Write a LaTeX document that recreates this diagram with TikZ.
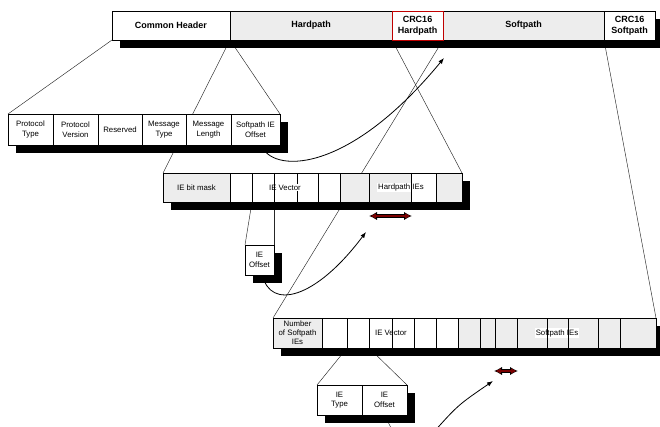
\documentclass[tikz,border=0pt]{standalone}
\usepackage{fontspec}
\setmainfont{Liberation Sans}
\usetikzlibrary{arrows.meta,calc}
\definecolor{cellgray}{HTML}{EDEDED}
\definecolor{crcred}{HTML}{C00000}
\definecolor{arrred}{HTML}{7A0000}
\pgfdeclarelayer{bg}
\pgfsetlayers{bg,main}
\tikzset{
  cell/.style={draw=black, line width=0.7pt, inner sep=0pt, outer sep=0pt, anchor=north west, align=center, font=\fontsize{7.8}{9.5}\selectfont},
  topcell/.style={cell, font=\bfseries\fontsize{9}{11}\selectfont},
  shadowbox/.style={fill=black},
  conn/.style={line width=0.45pt, black!85},
  curvearrow/.style={line width=0.8pt, -{Latex[length=6pt,width=4.5pt]}},
  spanlabel/.style={fill=white, inner sep=1pt, font=\fontsize{7.8}{9.5}\selectfont},
  divider/.style={line width=0.7pt, black},
  dblouter/.style={line width=3.6pt, black, {Latex[length=8pt,width=8.5pt]}-{Latex[length=8pt,width=8.5pt]}},
  dblinner/.style={line width=2.1pt, arrred, {Latex[length=5.4pt,width=5.4pt]}-{Latex[length=5.4pt,width=5.4pt]}, shorten <=1.4pt, shorten >=1.4pt}
}
\newcommand\mkcell[8]{\node[#8, fill=#6, minimum width={(#3-#2)*1pt}, minimum height={(#5-#4)*1pt}] (#1) at (#2,#4) {#7};}
\begin{document}
\begin{tikzpicture}[x=1pt,y=-1pt]
\useasboundingbox (0,0) rectangle (660,427);

% ---------- top bar ----------
\fill[shadowbox] (120,19) rectangle (663,48);
\mkcell{ch}{112}{230}{11}{40}{white}{Common Header}{topcell}
\mkcell{hp}{230}{392}{11}{40}{cellgray}{Hardpath}{topcell}
\mkcell{sp}{443}{604}{11}{40}{cellgray}{Softpath}{topcell}
\mkcell{crcs}{604}{655}{11}{40}{white}{CRC16\\Softpath}{topcell}
\mkcell{crch}{392}{443}{11}{40}{white}{CRC16\\Hardpath}{topcell,draw=crcred}

% ---------- protocol row ----------
\fill[shadowbox] (16,122) rectangle (288,153);
\mkcell{pr1}{8}{53}{114}{145}{white}{Protocol\\Type}{cell}
\mkcell{pr2}{53}{98}{114}{145}{white}{Protocol\\Version}{cell}
\mkcell{pr3}{98}{142}{114}{145}{white}{Reserved}{cell}
\mkcell{pr4}{142}{186}{114}{145}{white}{Message\\Type}{cell}
\mkcell{pr5}{186}{231}{114}{145}{white}{Message\\Length}{cell}
\mkcell{pr6}{231}{280}{114}{145}{white}{Softpath IE\\Offset}{cell}

% ---------- hardpath IE row ----------
\fill[shadowbox] (171,181) rectangle (470,210);
\mkcell{ie1}{163}{230}{173}{202}{cellgray}{IE bit mask}{cell}
\mkcell{ie2}{230}{252}{173}{202}{white}{}{cell}
\mkcell{ie3}{252}{274}{173}{202}{white}{}{cell}
\mkcell{ie4}{274}{297}{173}{202}{white}{}{cell}
\mkcell{ie5}{297}{318}{173}{202}{white}{}{cell}
\mkcell{ie6}{318}{340}{173}{202}{white}{}{cell}
\mkcell{ie7}{340}{369}{173}{202}{cellgray}{}{cell}
\mkcell{ie8}{369}{411}{173}{202}{cellgray}{}{cell}
\mkcell{ie9}{411}{436}{173}{202}{white}{}{cell}
\mkcell{ie10}{436}{462}{173}{202}{cellgray}{}{cell}
\node[spanlabel] (ievlab) at (285,187.5) {IE Vector};
\node[spanlabel] (hielab) at (401,187.5) {Hardpath IEs};
\draw[divider] (ie4.north west) -- (ie4.south west);
\draw[divider] (ie9.north west) -- (ie9.south west);

% ---------- IE offset box ----------
\fill[shadowbox] (253,253) rectangle (282,283);
\mkcell{ieo}{245}{274}{245}{275}{white}{IE\\Offset}{cell}

% ---------- softpath row ----------
\fill[shadowbox] (281,326) rectangle (664,356);
\mkcell{s1}{273}{322}{318}{348}{cellgray}{Number\\of Softpath\\IEs}{cell,font=\fontsize{7.8}{9}\selectfont}
\mkcell{s2}{322}{347}{318}{348}{white}{}{cell}
\mkcell{s3}{347}{369}{318}{348}{white}{}{cell}
\mkcell{s4}{369}{392}{318}{348}{white}{}{cell}
\mkcell{s5}{392}{414}{318}{348}{white}{}{cell}
\mkcell{s6}{414}{436}{318}{348}{white}{}{cell}
\mkcell{s7}{436}{458}{318}{348}{white}{}{cell}
\mkcell{s8}{458}{480}{318}{348}{cellgray}{}{cell}
\mkcell{s9}{480}{495}{318}{348}{cellgray}{}{cell}
\mkcell{s10}{495}{517}{318}{348}{cellgray}{}{cell}
\mkcell{s11}{517}{547}{318}{348}{cellgray}{}{cell}
\mkcell{s12}{547}{568}{318}{348}{cellgray}{}{cell}
\mkcell{s13}{568}{598}{318}{348}{cellgray}{}{cell}
\mkcell{s14}{598}{620}{318}{348}{cellgray}{}{cell}
\mkcell{s15}{620}{656}{318}{348}{cellgray}{}{cell}
\node[spanlabel] (svlab) at (391,333) {IE Vector};
\node[spanlabel] (silab) at (557,333) {Softpath IEs};
\draw[divider] (s5.north west) -- (s5.south west);
\draw[divider] (s12.north west) -- (s12.south west);
\draw[divider] (s13.north west) -- (s13.south west);

% ---------- IE type / offset box ----------
\fill[shadowbox] (325,393) rectangle (415,423);
\mkcell{bt1}{317}{362}{385}{415}{white}{IE\\Type}{cell}
\mkcell{bt2}{362}{407}{385}{415}{white}{IE\\Offset}{cell}

% ---------- free coordinates ----------
\coordinate (c1e) at (444,58);
\coordinate (c2e) at (366,232);
\coordinate (c3s) at (432,434);
\coordinate (c3e) at (493,381);
\coordinate (btout) at (393,432);
\coordinate (ha1) at (369,216);
\coordinate (ha2) at (412,216);
\coordinate (sa1) at (494,371);
\coordinate (sa2) at (518,371);

% ---------- connectors (behind boxes) ----------
\begin{pgfonlayer}{bg}
\draw[conn] (ch.south west) -- (pr1.north west);
\draw[conn] (ch.south east) -- (pr6.north east);
\draw[conn] (hp.south west) -- (ie1.north west);
\draw[conn] (hp.south east) -- (ie10.north east);
\draw[conn] (sp.south west) -- (s1.north west);
\draw[conn] (sp.south east) -- (s15.north east);
\draw[conn] (ie3.south west) -- (ieo.north west);
\draw[conn] (ie3.south east) -- (ieo.north east);
\draw[conn] (s3.south west) -- (bt1.north west);
\draw[conn] (s3.south east) -- (bt2.north east);
\draw[conn] (bt2.south) -- (btout);
\draw[curvearrow] ([xshift=6pt]pr6.south) .. controls (270,172) and (345,178) .. (c1e);
\draw[curvearrow] ([xshift=3pt]ieo.south) .. controls (270,310) and (315,300) .. (c2e);
\end{pgfonlayer}

\draw[curvearrow] (c3s) .. controls (458,405) .. (c3e);

% ---------- double arrows ----------
\draw[dblouter] (ha1) -- (ha2);
\draw[dblinner] (ha1) -- (ha2);
\draw[dblouter] (sa1) -- (sa2);
\draw[dblinner] (sa1) -- (sa2);
\end{tikzpicture}
\end{document}
